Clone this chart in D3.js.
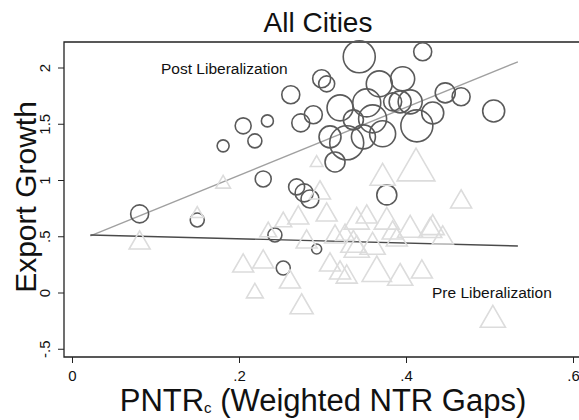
<!DOCTYPE html>
<html>
<head>
<meta charset="utf-8">
<script src="https://cdn.jsdelivr.net/npm/d3@7"></script>
<style>
  body { margin: 0; background: #fff; }
  text { font-family: Arial, "Liberation Sans", sans-serif; }
</style>
</head>
<body>
<div id="chart"></div>
<script>
// post liberalization cities (circles), weight drives marker size
var postX = [0.081, 0.150, 0.181, 0.205, 0.219, 0.234, 0.229, 0.262, 0.274, 0.289,
             0.299, 0.305, 0.269, 0.278, 0.285, 0.344, 0.420, 0.368, 0.396, 0.321,
             0.353, 0.384, 0.393, 0.405, 0.447, 0.466, 0.505, 0.432, 0.413, 0.337,
             0.360, 0.372, 0.349, 0.309, 0.329, 0.315, 0.377, 0.243, 0.293, 0.253];
var postY = [0.703, 0.649, 1.308, 1.486, 1.352, 1.530, 1.014, 1.762, 1.512, 1.584,
             1.904, 1.859, 0.943, 0.890, 0.836, 2.100, 2.144, 1.859, 1.904, 1.646,
             1.690, 1.699, 1.699, 1.699, 1.779, 1.744, 1.618, 1.600, 1.486, 1.539,
             1.548, 1.415, 1.388, 1.388, 1.335, 1.165, 0.872, 0.516, 0.391, 0.222];
var postW = [0.81, 0.49, 0.36, 0.64, 0.49, 0.36, 0.64, 0.81, 0.81, 0.81,
             0.81, 0.64, 0.64, 0.81, 0.81, 2.56, 0.81, 1.69, 1.44, 1.69,
             1.96, 0.81, 1.21, 1.44, 1.00, 0.81, 1.21, 1.21, 2.56, 1.00,
             1.96, 1.69, 1.44, 1.21, 2.89, 1.00, 1.00, 0.49, 0.25, 0.49];

// pre liberalization cities (triangles)
var preX = [0.081, 0.150, 0.181, 0.205, 0.219, 0.229, 0.235, 0.253, 0.261, 0.271,
            0.275, 0.293, 0.297, 0.305, 0.281, 0.309, 0.315, 0.321, 0.327, 0.337,
            0.341, 0.353, 0.360, 0.372, 0.377, 0.384, 0.389, 0.365, 0.393, 0.405,
            0.412, 0.419, 0.429, 0.432, 0.444, 0.466, 0.504, 0.329, 0.341];
var preY = [0.445, 0.703, 0.970, 0.240, 0.000, 0.276, 0.543, 0.632, 0.098, 0.667,
            -0.125, 1.157, 0.890, 0.694, 0.454, 0.249, 0.498, 0.178, 0.516, 0.427,
            0.632, 0.676, 0.409, 1.023, 0.632, 0.534, 0.472, 0.178, 0.133, 0.560,
            1.094, 0.187, 0.552, 0.578, 0.489, 0.810, -0.240, 0.142, 0.383];
var preW = [1.00, 0.36, 0.49, 1.00, 0.64, 1.00, 0.64, 0.64, 1.00, 1.00,
            1.21, 0.36, 1.00, 1.00, 1.00, 1.00, 1.00, 1.00, 0.81, 1.44,
            1.44, 1.00, 1.44, 1.44, 1.44, 1.00, 1.00, 1.96, 1.44, 1.44,
            3.24, 1.00, 1.21, 1.21, 1.00, 1.00, 1.44, 1.00, 1.44];

// fitted lines
var fitX = [0.022, 0.534];
var postFit = [0.507, 2.055];
var preFit = [0.516, 0.418];

var xTicks = [0, 0.2, 0.4, 0.6];
var xTickLabels = ["0", ".2", ".4", ".6"];
var yTicks = [-0.5, 0, 0.5, 1, 1.5, 2];
var yTickLabels = ["-.5", "0", ".5", "1", "1.5", "2"];

var width = 579, height = 420;
var frame = {left: 64, top: 42, right: 579, bottom: 357};

var svg = d3.select("#chart").append("svg")
    .attr("width", width)
    .attr("height", height);

var x = d3.scaleLinear().domain([0, 0.6]).range([72, 573]);
var y = d3.scaleLinear().domain([0, 2]).range([293, 68]);
var r = d3.scaleSqrt().domain([0, 1]).range([0, 10]);

// frame (right side runs off the picture)
svg.append("path")
    .attr("d", `M${frame.right},${frame.top}H${frame.left}V${frame.bottom}H${frame.right}`)
    .attr("fill", "none")
    .attr("stroke", "#222")
    .attr("stroke-width", 1.3);

// axes
var yAxis = d3.axisLeft(y).tickValues(yTicks)
    .tickFormat((d, i) => yTickLabels[i]).tickSize(6).tickPadding(4);
var gy = svg.append("g").attr("transform", `translate(${frame.left},0)`).call(yAxis);
gy.select(".domain").remove();
gy.selectAll("line").attr("stroke", "#222");
gy.selectAll("text")
    .attr("font-size", 15)
    .attr("fill", "#111")
    .attr("text-anchor", "middle")
    .attr("transform", d => `translate(-14,${y(d)}) rotate(-90)`)
    .attr("x", 0).attr("y", 0).attr("dy", 0)
    .style("font-family", "Arial, 'Liberation Sans', sans-serif");
gy.selectAll(".tick").attr("transform", null);
gy.selectAll(".tick line").attr("transform", d => `translate(0,${y(d)})`);

var xAxis = d3.axisBottom(x).tickValues(xTicks)
    .tickFormat((d, i) => xTickLabels[i]).tickSize(6).tickPadding(7);
var gx = svg.append("g").attr("transform", `translate(0,${frame.bottom})`).call(xAxis);
gx.select(".domain").remove();
gx.selectAll("line").attr("stroke", "#222");
gx.selectAll("text")
    .attr("font-size", 15)
    .attr("fill", "#111")
    .style("font-family", "Arial, 'Liberation Sans', sans-serif");

// fitted lines
var line = d3.line().x(d => x(d[0])).y(d => y(d[1]));
svg.append("path")
    .datum(fitX.map((v, i) => [v, postFit[i]]))
    .attr("d", line)
    .attr("fill", "none")
    .attr("stroke", "#a0a0a0")
    .attr("stroke-width", 1.4);

svg.append("path")
    .datum(fitX.map((v, i) => [v, preFit[i]]))
    .attr("d", line)
    .attr("fill", "none")
    .attr("stroke", "#4a4a4a")
    .attr("stroke-width", 1.4);

// circles (post)
var postData = postX.map((v, i) => [v, postY[i], postW[i]]);
svg.append("g").selectAll("circle")
    .data(postData)
    .enter().append("circle")
    .attr("cx", d => x(d[0]))
    .attr("cy", d => y(d[1]))
    .attr("r", d => r(d[2]))
    .attr("fill", "none")
    .attr("stroke", "#5a5a5a")
    .attr("stroke-width", 1.6);

// triangles (pre), drawn on top
var preData = preX.map((v, i) => [v, preY[i], preW[i]]);
function tri(hw) {
    var s = 2 * hw, h = s * Math.sqrt(3) / 2;
    return `M0,${-2 * h / 3}L${hw},${h / 3}L${-hw},${h / 3}Z`;
}
svg.append("g").selectAll("path")
    .data(preData)
    .enter().append("path")
    .attr("transform", d => `translate(${x(d[0])},${y(d[1])})`)
    .attr("d", d => tri(r(d[2]) * 1.05))
    .attr("fill", "none")
    .attr("stroke", "#dcdcdc")
    .attr("stroke-width", 1.6);

// labels
svg.append("text")
    .attr("x", 161).attr("y", 74)
    .attr("font-size", 15.5)
    .attr("fill", "#111")
    .text("Post Liberalization");

svg.append("text")
    .attr("x", 432).attr("y", 298)
    .attr("font-size", 15.5)
    .attr("fill", "#111")
    .text("Pre Liberalization");

// titles
svg.append("text")
    .attr("x", 318).attr("y", 32)
    .attr("text-anchor", "middle")
    .attr("font-size", 28)
    .attr("fill", "#111")
    .text("All Cities");

var xt = svg.append("text")
    .attr("x", 323).attr("y", 411)
    .attr("text-anchor", "middle")
    .attr("font-size", 31)
    .attr("fill", "#111");
xt.append("tspan").text("PNTR");
xt.append("tspan").attr("font-size", 15).attr("dy", 2).text("c");
xt.append("tspan").attr("dy", -2).text(" (Weighted NTR Gaps)");

svg.append("text")
    .attr("transform", `translate(36,${197}) rotate(-90)`)
    .attr("text-anchor", "middle")
    .attr("font-size", 30)
    .attr("fill", "#111")
    .text("Export Growth");
</script>
</body>
</html>
